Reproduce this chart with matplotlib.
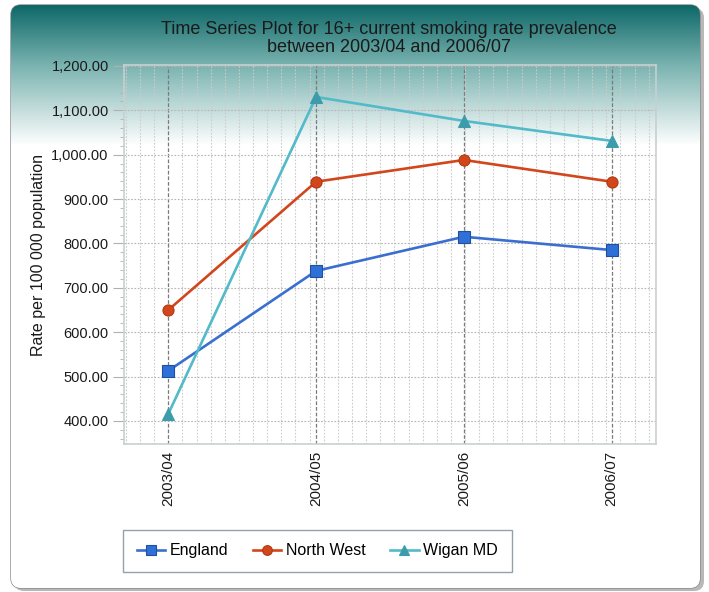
import numpy as np
import matplotlib
matplotlib.use("Agg")
import matplotlib.pyplot as plt
from matplotlib.patches import FancyBboxPatch
from matplotlib.ticker import MultipleLocator, FuncFormatter, FixedLocator

plt.rcParams['font.family'] = ['Liberation Sans', 'DejaVu Sans']

# data
periods = ["2003/04", "2004/05", "2005/06", "2006/07"]
england = [513, 738, 815, 785]
north_west = [650, 939, 988, 939]
wigan = [416, 1130, 1076, 1031]

W, H = 709, 592
fig = plt.figure(figsize=(W / 100, H / 100), dpi=100)

# background: rounded panel with teal gradient at the top
bg = fig.add_axes([0, 0, 1, 1])
bg.set_xlim(0, W)
bg.set_ylim(H, 0)
bg.axis("off")

shadow = FancyBboxPatch((14, 8), 690, 583, boxstyle="round,pad=0,rounding_size=10",
                        fc="#b8b8b8", ec="none", zorder=0)
bg.add_patch(shadow)
panel = FancyBboxPatch((11, 5), 689, 583, boxstyle="round,pad=0,rounding_size=10",
                       fc="white", ec="#8a8a8a", lw=1.0, zorder=1)
bg.add_patch(panel)

rows = np.arange(H)
t = np.clip((rows - 5) / 140.0, 0, 1)
top = np.array([14, 104, 104]) / 255.0
mid = np.array([120, 178, 175]) / 255.0
grad = np.zeros((H, 1, 4))
for i, v in enumerate(t):
    if v < 0.42:
        c = top + (mid - top) * (v / 0.42)
    else:
        c = mid + (np.ones(3) - mid) * ((v - 0.42) / 0.58)
    grad[i, 0, :3] = c
    grad[i, 0, 3] = 1.0
img = bg.imshow(grad, extent=(0, W, H, 0), aspect="auto", zorder=2, interpolation="bilinear")
img.set_clip_path(panel)

fig.text(0.548, 0.964, "Time Series Plot for 16+ current smoking rate prevalence\nbetween 2003/04 and 2006/07",
         ha="center", va="top", fontsize=13, color="#1a1a1a", linespacing=1.08)

ax = fig.add_axes([124 / W, 1 - 444 / H, (656 - 124) / W, (444 - 65) / H])
ax.patch.set_alpha(0)
x = np.arange(len(periods))

ax.plot(x, england, color="#3a6fd0", lw=1.9, marker="s", ms=8, mfc="#2f6fd8",
        mec="#1f4f9f", mew=0.8, label="England", zorder=5)
ax.plot(x, north_west, color="#d2461c", lw=1.9, marker="o", ms=8, mfc="#d2461c",
        mec="#b23a12", mew=0.8, label="North West", zorder=5)
ax.plot(x, wigan, color="#52bac8", lw=1.9, marker="^", ms=8, mfc="#3c9cab",
        mec="#3c9cab", mew=0.8, label="Wigan MD", zorder=5)

ax.set_xlim(-0.3, 3.3)
ax.set_ylim(348, 1202)

# minor vertical grid
minor_step = 0.0956
ax.xaxis.set_minor_locator(FixedLocator(np.arange(-3, 36) * minor_step))
ax.grid(which="minor", axis="x", color="#cccccc", ls=(0, (1.5, 1.5)), lw=0.8)
ax.set_xticks(x)
ax.set_xticklabels(periods, rotation=90, fontsize=11)
ax.grid(which="major", axis="x", color="#7a7a7a", ls=(0, (3, 1.5)), lw=0.9)
ax.tick_params(axis="x", which="both", length=0, pad=5, colors="#1a1a1a")

ax.yaxis.set_major_locator(MultipleLocator(100))
ax.yaxis.set_minor_locator(MultipleLocator(20))
ax.yaxis.set_major_formatter(FuncFormatter(lambda v, p: f"{v:,.2f}"))
ax.grid(which="major", axis="y", color="#b5b5b5", ls=(0, (1.5, 1.5)), lw=0.8)
ax.tick_params(axis="y", which="major", length=8, color="#b0b0b0", labelsize=10.5,
               labelcolor="#1a1a1a", pad=3)
ax.tick_params(axis="y", which="minor", length=3, color="#b0b0b0")
ax.set_axisbelow(True)

for s in ax.spines.values():
    s.set_color("#c9cfd0")
    s.set_linewidth(1.2)

ax.set_ylabel("Rate per 100 000 population", fontsize=11.5, color="#1a1a1a", labelpad=4)

leg = fig.legend(loc="lower left", bbox_to_anchor=(123 / W, 1 - 572 / H), ncol=3,
                 frameon=True, fancybox=False, fontsize=11.5, handlelength=1.8,
                 columnspacing=1.5, borderpad=0.85, handletextpad=0.3, borderaxespad=0)
leg.get_frame().set_edgecolor("#7a8a90")
leg.get_frame().set_linewidth(1.0)
leg.get_frame().set_facecolor("white")
for ln in leg.get_lines():
    ln.set_markersize(7)

fig.savefig("out.png", dpi=100)
